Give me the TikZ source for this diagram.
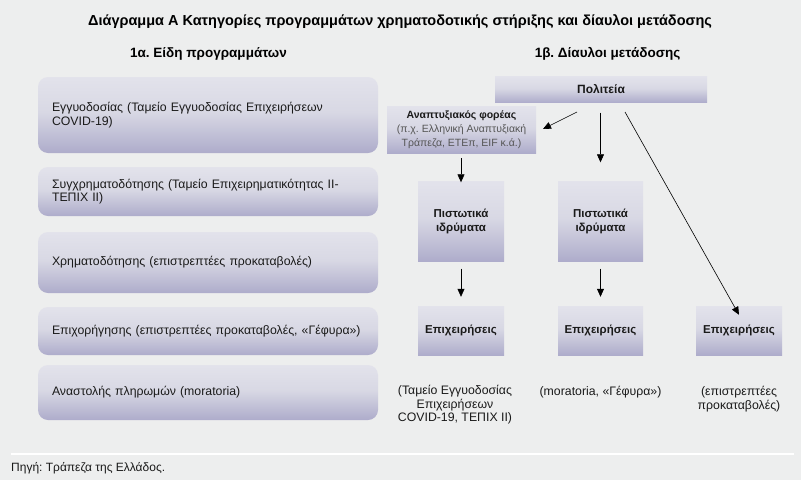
\documentclass[tikz,border=0pt]{standalone}
\usepackage{fontspec}
\setmainfont{Liberation Sans}
\usetikzlibrary{arrows.meta}
\definecolor{bg}{HTML}{EDEEEE}
\definecolor{sh0}{HTML}{5E5A8E}
\definecolor{sh1}{HTML}{7B78A8}
\definecolor{sh2}{HTML}{A9A7C8}
\definecolor{sh3}{HTML}{D8D8E4}
\definecolor{sh4}{HTML}{EEEEF3}
\definecolor{txt}{HTML}{1A1A1A}
\definecolor{grtxt}{HTML}{555555}
\pgfdeclareverticalshading{boxshade}{100bp}{color(0bp)=(sh0); color(3bp)=(sh1); color(22bp)=(sh2); color(52bp)=(sh3); color(100bp)=(sh4)}
\tikzset{
  leftbox/.style={shade, shading=boxshade, rounded corners=10pt, minimum width=340pt, text width=312pt, inner xsep=14pt, align=left, font=\fontsize{12.3}{13.5}\selectfont, text=txt},
  rbox/.style={shade, shading=boxshade, font=\bfseries\fontsize{11.5}{14}\selectfont, align=center, text=txt},
  arr/.style={-{Triangle[length=8pt,width=7pt]}, line width=0.6pt, black},
  note/.style={align=center, font=\fontsize{12.3}{13.5}\selectfont, text=txt},
  hdr/.style={font=\bfseries\fontsize{14.5}{16}\selectfont, text=black}
}
\begin{document}
\frenchspacing
\begin{tikzpicture}[x=1pt,y=-1pt]
\fill[bg] (0,0) rectangle (801,480);
\useasboundingbox (0,0) rectangle (801,480);
% titles
\node[hdr] (title) at (400,21.5) {Διάγραμμα Α Κατηγορίες προγραμμάτων χρηματοδοτικής στήριξης και δίαυλοι μετάδοσης};
\node[hdr, font=\bfseries\fontsize{13.5}{16}\selectfont] (h1) at (208.5,54) {1α. Είδη προγραμμάτων};
\node[hdr, font=\bfseries\fontsize{13.5}{16}\selectfont] (h2) at (607.5,54) {1β. Δίαυλοι μετάδοσης};
% left boxes
\node[leftbox, minimum height=76pt] (l1) at (208,115) {Εγγυοδοσίας (Ταμείο Εγγυοδοσίας Επιχειρήσεων\\COVID-19)};
\node[leftbox, minimum height=49pt] (l2) at (208,191.5) {Συγχρηματοδότησης (Ταμείο Επιχειρηματικότητας ΙΙ-\\ΤΕΠΙΧ ΙΙ)};
\node[leftbox, minimum height=61pt] (l3) at (208,262.5) {Χρηματοδότησης (επιστρεπτέες προκαταβολές)};
\node[leftbox, minimum height=48pt] (l4) at (208,331) {Επιχορήγησης (επιστρεπτέες προκαταβολές, «Γέφυρα»)};
\node[leftbox, minimum height=55pt] (l5) at (208,392.5) {Αναστολής πληρωμών (moratoria)};
% right side
\node[rbox, minimum width=212pt, minimum height=26pt, font=\bfseries\fontsize{12}{14}\selectfont] (pol) at (601,89.5) {Πολιτεία};
\node[rbox, minimum width=149pt, minimum height=47pt, inner sep=1pt, font=\fontsize{10.5}{14}\selectfont] (ana) at (461.5,129.5) {\textbf{Αναπτυξιακός φορέας}\\\textcolor{grtxt}{(π.χ. Ελληνική Αναπτυξιακή}\\\textcolor{grtxt}{Τράπεζα, ΕΤΕπ, EIF κ.ά.)}};
\node[rbox, minimum width=86pt, minimum height=80pt] (pa) at (461,221.5) {Πιστωτικά\\ιδρύματα};
\node[rbox, minimum width=85pt, minimum height=80pt] (pb) at (600.5,221.5) {Πιστωτικά\\ιδρύματα};
\node[rbox, minimum width=86pt, minimum height=49pt] (ea) at (461,330.5) {Επιχειρήσεις};
\node[rbox, minimum width=85pt, minimum height=49pt] (eb) at (600.5,330.5) {Επιχειρήσεις};
\node[rbox, minimum width=86pt, minimum height=49pt] (ec) at (739,330.5) {Επιχειρήσεις};
% notes
\node[note] (na) at (455,405) {(Ταμείο Εγγυοδοσίας\\Επιχειρήσεων\\COVID-19, ΤΕΠΙΧ ΙΙ)};
\node[note] (nb) at (600.5,392) {(moratoria, «Γέφυρα»)};
\node[note] (nc) at (739,399) {(επιστρεπτέες\\προκαταβολές)};
% connectors
\coordinate (p1) at (577,112);
\coordinate (p2) at (543,129);
\coordinate (p3) at (625,112);
\draw[arr] (p1) -- (p2);
\draw[arr, shorten <=10pt, shorten >=19pt] (pol.south -| pb.north) -- (pb.north);
\draw[arr] (p3) -- ([yshift=-9pt]ec.north);
\draw[arr, shorten <=5pt, shorten >=-1pt] (ana.south -| pa.north) -- (pa.north);
\draw[arr, shorten <=7pt, shorten >=9pt] (pa.south) -- (ea.north);
\draw[arr, shorten <=7pt, shorten >=9pt] (pb.south) -- (eb.north);
% footer
\draw[white, line width=1.5pt] (11,454) -- (794,454);
\node[anchor=west, font=\fontsize{12}{14}\selectfont, text=txt, inner sep=0pt] (src) at (11,468) {Πηγή: Τράπεζα της Ελλάδος.};
\end{tikzpicture}
\end{document}
